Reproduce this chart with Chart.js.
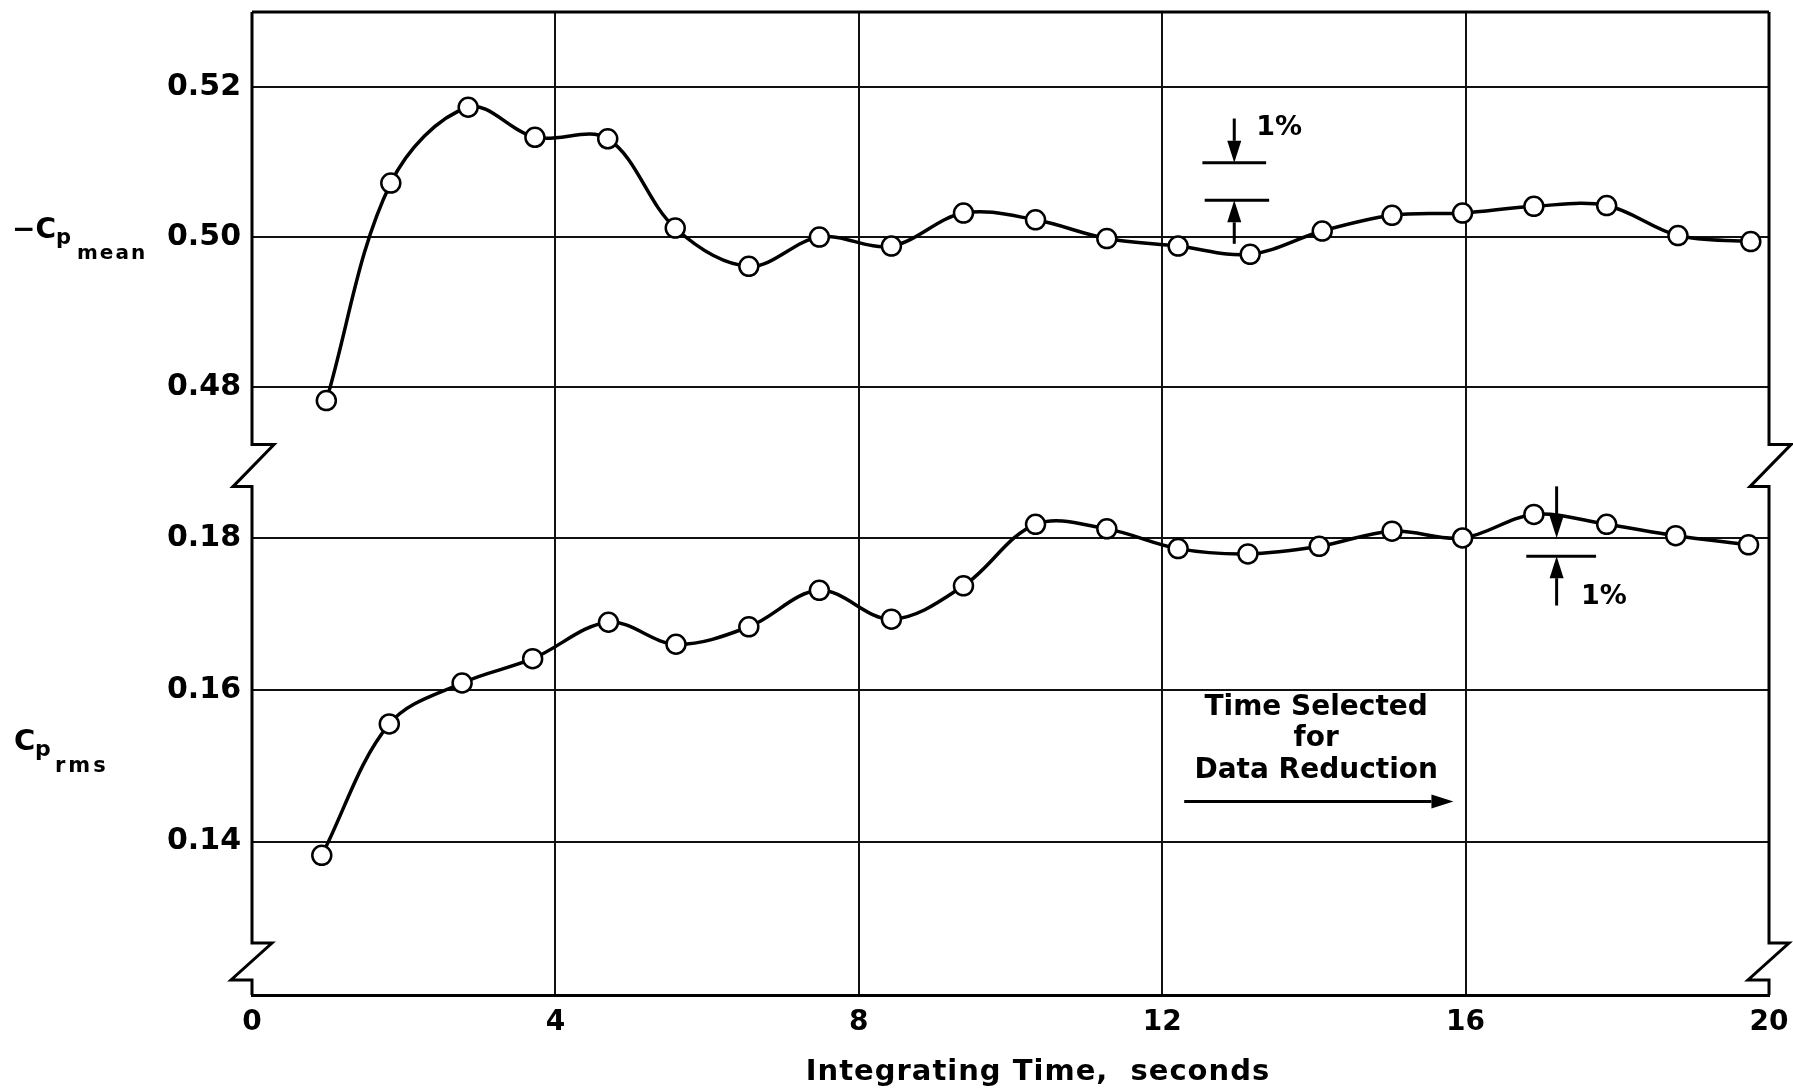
<!DOCTYPE html>
<html>
<head>
<meta charset="utf-8">
<script src="https://cdn.jsdelivr.net/npm/chart.js@4.4.0/dist/chart.umd.min.js"></script>
<style>
  html, body { margin: 0; padding: 0; background: #fff; }
</style>
</head>
<body>
<canvas id="grafico" width="1793" height="1091"></canvas>
<script>
// Valores
var tiemposMean = [0.98, 1.83, 2.85, 3.73, 4.69, 5.58, 6.55, 7.48, 8.43, 9.38, 10.33, 11.27, 12.21, 13.16, 14.11, 15.03, 15.96, 16.9, 17.86, 18.8, 19.76];
var cpMean = [0.4782, 0.5072, 0.5173, 0.5133, 0.5131, 0.5012, 0.4961, 0.5000, 0.4988, 0.5032, 0.5023, 0.4998, 0.4988, 0.4977, 0.5008, 0.5029, 0.5032, 0.5041, 0.5042, 0.5002, 0.4994];

var tiemposRms = [0.92, 1.81, 2.77, 3.70, 4.70, 5.59, 6.55, 7.48, 8.43, 9.38, 10.33, 11.27, 12.21, 13.13, 14.07, 15.03, 15.96, 16.9, 17.86, 18.77, 19.73];
var cpRms = [0.1382, 0.1555, 0.1609, 0.1641, 0.1689, 0.1660, 0.1683, 0.1731, 0.1693, 0.1737, 0.1818, 0.1812, 0.1786, 0.1779, 0.1789, 0.1809, 0.1800, 0.1831, 0.1818, 0.1803, 0.1791];

var ticksX = [0, 4, 8, 12, 16, 20];
var ticksMean = [0.48, 0.50, 0.52];
var ticksRms = [0.14, 0.16, 0.18];

var FUENTE = "'DejaVu Sans', sans-serif";
Chart.defaults.font.family = FUENTE;
Chart.defaults.color = "#000";

function puntos(xs, ys) {
    return xs.map(function (t, i) { return { x: t, y: ys[i] }; });
}

// dibuja una flecha con punta rellena
function flecha(ctx, x1, y1, x2, y2) {
    var ang = Math.atan2(y2 - y1, x2 - x1);
    var largo = 22, ancho = 7;
    var bx = x2 - largo * Math.cos(ang), by = y2 - largo * Math.sin(ang);
    ctx.beginPath();
    ctx.moveTo(x1, y1);
    ctx.lineTo(bx, by);
    ctx.stroke();
    ctx.beginPath();
    ctx.moveTo(x2, y2);
    ctx.lineTo(bx + ancho * Math.sin(ang), by - ancho * Math.cos(ang));
    ctx.lineTo(bx - ancho * Math.sin(ang), by + ancho * Math.cos(ang));
    ctx.closePath();
    ctx.fill();
}

// marco con los cortes del eje
var marco = {
    id: "marco",
    beforeDatasetsDraw: function (chart) {
        var ctx = chart.ctx;
        var ca = chart.chartArea;
        var corte = chart.scales.yMean.bottom;
        ctx.save();
        ctx.strokeStyle = "#000";
        ctx.lineWidth = 3;
        ctx.lineJoin = "miter";
        ctx.beginPath();
        ctx.moveTo(ca.left, ca.top);
        ctx.lineTo(ca.right, ca.top);
        ctx.stroke();
        [ca.left, ca.right].forEach(function (x) {
            ctx.beginPath();
            ctx.moveTo(x, ca.top);
            ctx.lineTo(x, corte - 22);
            ctx.lineTo(x + 22, corte - 22);
            ctx.lineTo(x - 19, corte + 20);
            ctx.lineTo(x, corte + 20);
            ctx.lineTo(x, ca.bottom - 52);
            ctx.lineTo(x + 20, ca.bottom - 52);
            ctx.lineTo(x - 21, ca.bottom - 15);
            ctx.lineTo(x, ca.bottom - 15);
            ctx.lineTo(x, ca.bottom);
            ctx.stroke();
        });
        ctx.restore();
    },
    afterDraw: function (chart) {
        var ctx = chart.ctx;
        var sx = chart.scales.x, sm = chart.scales.yMean, sr = chart.scales.yRms;
        ctx.save();
        ctx.strokeStyle = "#000";
        ctx.fillStyle = "#000";
        ctx.lineWidth = 3;

        // 1% en la curva media
        var xa = sx.getPixelForValue(12.95);
        ctx.beginPath();
        ctx.moveTo(sx.getPixelForValue(12.53), sm.getPixelForValue(0.5099));
        ctx.lineTo(sx.getPixelForValue(13.37), sm.getPixelForValue(0.5099));
        ctx.moveTo(sx.getPixelForValue(12.56), sm.getPixelForValue(0.5049));
        ctx.lineTo(sx.getPixelForValue(13.41), sm.getPixelForValue(0.5049));
        ctx.stroke();
        flecha(ctx, xa, sm.getPixelForValue(0.5158), xa, sm.getPixelForValue(0.5099));
        flecha(ctx, xa, sm.getPixelForValue(0.4991), xa, sm.getPixelForValue(0.5049));

        // 1% en la curva rms
        var xb = sx.getPixelForValue(17.2);
        ctx.beginPath();
        ctx.moveTo(sx.getPixelForValue(16.8), sr.getPixelForValue(0.1776));
        ctx.lineTo(sx.getPixelForValue(17.72), sr.getPixelForValue(0.1776));
        ctx.stroke();
        flecha(ctx, xb, sr.getPixelForValue(0.1868), xb, sr.getPixelForValue(0.18));
        flecha(ctx, xb, sr.getPixelForValue(0.1711), xb, sr.getPixelForValue(0.1776));

        ctx.font = "bold 27px " + FUENTE;
        ctx.textAlign = "left";
        ctx.textBaseline = "middle";
        ctx.fillText("1%", sx.getPixelForValue(13.24), sm.getPixelForValue(0.5145));
        ctx.fillText("1%", sx.getPixelForValue(17.52), sr.getPixelForValue(0.1722));

        // Tiempo seleccionado
        ctx.font = "bold 28px " + FUENTE;
        ctx.textAlign = "center";
        var xc = sx.getPixelForValue(14.03);
        ctx.fillText("Time Selected", xc, sr.getPixelForValue(0.1577));
        ctx.fillText("for", xc, sr.getPixelForValue(0.1536));
        ctx.fillText("Data Reduction", xc, sr.getPixelForValue(0.1494));
        flecha(ctx, sx.getPixelForValue(12.29), sr.getPixelForValue(0.1453), sx.getPixelForValue(15.84), sr.getPixelForValue(0.1453));

        // titulo del eje x
        ctx.font = "bold 29px " + FUENTE;
        ctx.letterSpacing = "1px";
        ctx.fillText("Integrating Time,  seconds", 1038, 1072);
        ctx.letterSpacing = "0px";

        // titulos del eje y con subindices
        ctx.textAlign = "left";
        ctx.textBaseline = "alphabetic";
        ctx.font = "bold 28px " + FUENTE;
        ctx.fillText("\u2212C", 12, 238);
        ctx.font = "bold 21px " + FUENTE;
        ctx.fillText("p", 56, 244);
        ctx.letterSpacing = "2px";
        ctx.font = "bold 20px " + FUENTE;
        ctx.fillText("mean", 77, 259);
        ctx.letterSpacing = "0px";

        ctx.font = "bold 29px " + FUENTE;
        ctx.fillText("C", 14, 750);
        ctx.font = "bold 22px " + FUENTE;
        ctx.fillText("p", 35, 756);
        ctx.letterSpacing = "3px";
        ctx.font = "bold 21px " + FUENTE;
        ctx.fillText("rms", 55, 772);
        ctx.letterSpacing = "0px";
        ctx.restore();
    }
};

function ejeY(min, max, ticks, peso, orden) {
    return {
        type: "linear",
        position: "left",
        stack: "cp",
        stackWeight: peso,
        weight: orden,
        min: min,
        max: max,
        afterBuildTicks: function (s) { s.ticks = ticks.map(function (v) { return { value: v }; }); },
        afterFit: function (s) { s.width = 252; s.paddingTop = 0; s.paddingBottom = 0; },
        grid: { color: "#111", lineWidth: 2, drawTicks: false },
        border: { display: false },
        ticks: {
            padding: 11,
            font: { size: 30, weight: "bold" },
            callback: function (v) { return v.toFixed(2); }
        }
    };
}

var ctx = document.getElementById("grafico").getContext("2d");
var grafico = new Chart(ctx, {
    type: "line",
    data: {
        datasets: [{
            label: "-Cp mean",
            data: puntos(tiemposMean, cpMean),
            yAxisID: "yMean"
        }, {
            label: "Cp rms",
            data: puntos(tiemposRms, cpRms),
            yAxisID: "yRms"
        }]
    },
    options: {
        responsive: false,
        animation: false,
        layout: { padding: { top: 9, right: 24, left: 0, bottom: 0 } },
        elements: {
            line: { borderColor: "#000", borderWidth: 3.5, tension: 0.35, fill: false },
            point: { radius: 9.5, borderWidth: 2.5, borderColor: "#000", backgroundColor: "#fff" }
        },
        plugins: { legend: { display: false }, tooltip: { enabled: false } },
        scales: {
            x: {
                type: "linear",
                position: "bottom",
                min: 0,
                max: 20,
                afterBuildTicks: function (s) { s.ticks = ticksX.map(function (v) { return { value: v }; }); },
                afterFit: function (s) { s.height = 96; s.paddingLeft = 0; s.paddingRight = 0; },
                grid: {
                    lineWidth: 2,
                    drawTicks: false,
                    color: function (c) { return (c.tick && (c.tick.value === 0 || c.tick.value === 20)) ? "rgba(0,0,0,0)" : "#111"; }
                },
                border: { display: true, width: 3, color: "#000" },
                ticks: { padding: 11, maxRotation: 0, font: { size: 28, weight: "bold" } },
                title: { display: false }
            },
            yMean: ejeY(0.4694, 0.5300, ticksMean, 456, 1),
            yRms: ejeY(0.1198, 0.1894, ticksRms, 530, 0)
        }
    },
    plugins: [marco]
});
</script>
</body>
</html>
